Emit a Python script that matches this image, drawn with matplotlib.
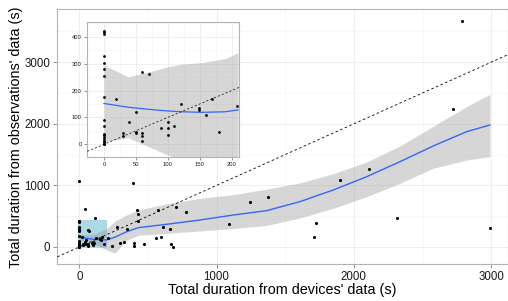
import numpy as np
import matplotlib
matplotlib.use('Agg')
import matplotlib.pyplot as plt
from matplotlib.patches import Rectangle

plt.rcParams['font.family'] = ['Liberation Sans', 'DejaVu Sans']

# Observations: (devices, observations) in seconds
dev_s = [0, 0, 0, 0, 0, 0, 0, 0, 0, 0, 0, 0, 0, 0, 0, 0, 0, 0,
         19, 30, 30, 39, 50, 50, 50, 60, 60, 60, 60, 70, 90, 100, 100, 100,
         110, 120, 149, 149, 160, 169, 180, 208,
         0, 41, 113, 242, 278, 300, 324, 350, 391, 400, 400, 420, 431, 431,
         470, 571, 562, 595, 612, 663, 666, 680, 702, 781, 1093, 1241, 1372,
         1711, 1723, 1901, 2112, 2312, 2722, 2789, 2993]
obs_s = [420, 416, 412, 329, 301, 280, 254, 175, 90, 68, 40, 33, 26, 20, 14, 8, 3, 0,
         170, 41, 32, 82, 119, 45, 41, 268, 41, 31, 13, 260, 59, 83, 59, 33,
         67, 151, 134, 128, 108, 167, 45, 141,
         1065, 611, 466, 16, 330, 70, 86, 297, 1044, 70, 21, 600, 530, 422,
         43, 600, 141, 168, 330, 292, 43, 0, 650, 573, 368, 731, 806,
         157, 395, 1083, 1266, 466, 2235, 3674, 308]

# smoother
sm_x = [0, 100, 200, 260, 345, 430, 636, 879, 1122, 1365, 1607, 1850, 2093, 2336, 2578, 2821, 2991]
sm_fit = [157, 125, 114, 160, 248, 314, 368, 438, 519, 590, 736, 925, 1141, 1385, 1640, 1872, 1981]
sm_lo = [110, 60, -50, -100, 110, 190, 222, 260, 300, 350, 470, 628, 817, 1034, 1278, 1412, 1466]
sm_hi = [205, 200, 300, 420, 520, 600, 700, 790, 850, 940, 1040, 1190, 1380, 1640, 1960, 2280, 2480]

# smoother
in_x = [0, 38, 80, 101, 122, 153, 190, 210]
in_fit = [152, 138, 128, 124, 121, 119, 121, 128]
in_lo = [9, 25, -19, -41, -56, -66, -77, -84]
in_hi = [295, 251, 275, 289, 298, 304, 319, 340]

border = '#b3b3b3'
grid_major = '#ebebeb'
grid_minor = '#f7f7f7'


def style_axes(ax, major_x, minor_x, major_y, minor_y, fs, tick_len):
    ax.set_xticks(major_x)
    ax.set_yticks(major_y)
    ax.set_xticks(minor_x, minor=True)
    ax.set_yticks(minor_y, minor=True)
    ax.grid(True, which='major', color=grid_major, lw=0.6, zorder=0)
    ax.grid(True, which='minor', color=grid_minor, lw=0.6, zorder=0)
    ax.set_axisbelow(True)
    for s in ax.spines.values():
        s.set_color(border)
        s.set_linewidth(0.8)
    ax.tick_params(which='major', length=tick_len, width=0.6, color='#7f7f7f',
                   labelsize=fs, labelcolor='#1a1a1a', pad=2)
    ax.tick_params(which='minor', length=0)


fig = plt.figure(figsize=(5.08, 3.01), dpi=100)

# main panel
ax = fig.add_axes([0.1128, 0.122, 0.887, 0.847])
ax.add_patch(Rectangle((-10, -20), 210, 455, facecolor='#add8e6', edgecolor='none', zorder=1))
ax.fill_between(sm_x, sm_lo, sm_hi, color='#999999', alpha=0.4, lw=0, zorder=2)
ax.plot(sm_x, sm_fit, color='#3366ff', lw=1.0, zorder=3)
ax.axline((0, 0), slope=1, color='black', lw=0.6, ls=(0, (3, 3)), zorder=3)
ax.scatter(dev_s, obs_s, s=5, color='black', lw=0, zorder=4)
ax.set_xlim(-160, 3122)
ax.set_ylim(-281, 3859)
style_axes(ax, [0, 1000, 2000, 3000], [500, 1500, 2500],
           [0, 1000, 2000, 3000], [500, 1500, 2500, 3500], 8.3, 3)
ax.set_xlabel("Total duration from devices' data (s)", fontsize=10.4, labelpad=0)
ax.set_ylabel("Total duration from observations' data (s)", fontsize=10.4, labelpad=1)

# inset panel
ins = fig.add_axes([0.1719, 0.4794, 0.2986, 0.4485])
ins.set_facecolor('white')
ins.fill_between(in_x, in_lo, in_hi, color='#999999', alpha=0.4, lw=0, zorder=2)
ins.plot(in_x, in_fit, color='#3366ff', lw=0.9, zorder=3)
ins.axline((0, 0), slope=1, color='black', lw=0.5, ls=(0, (3, 3)), zorder=3)
ins.scatter(dev_s, obs_s, s=4, color='black', lw=0, zorder=4)
ins.set_xlim(-26, 211.6)
ins.set_ylim(-46, 456)
style_axes(ins, [0, 50, 100, 150, 200], [25, 75, 125, 175],
           [0, 100, 200, 300, 400], [50, 150, 250, 350, 450], 4.2, 2)

fig.savefig('out.png', dpi=100)
